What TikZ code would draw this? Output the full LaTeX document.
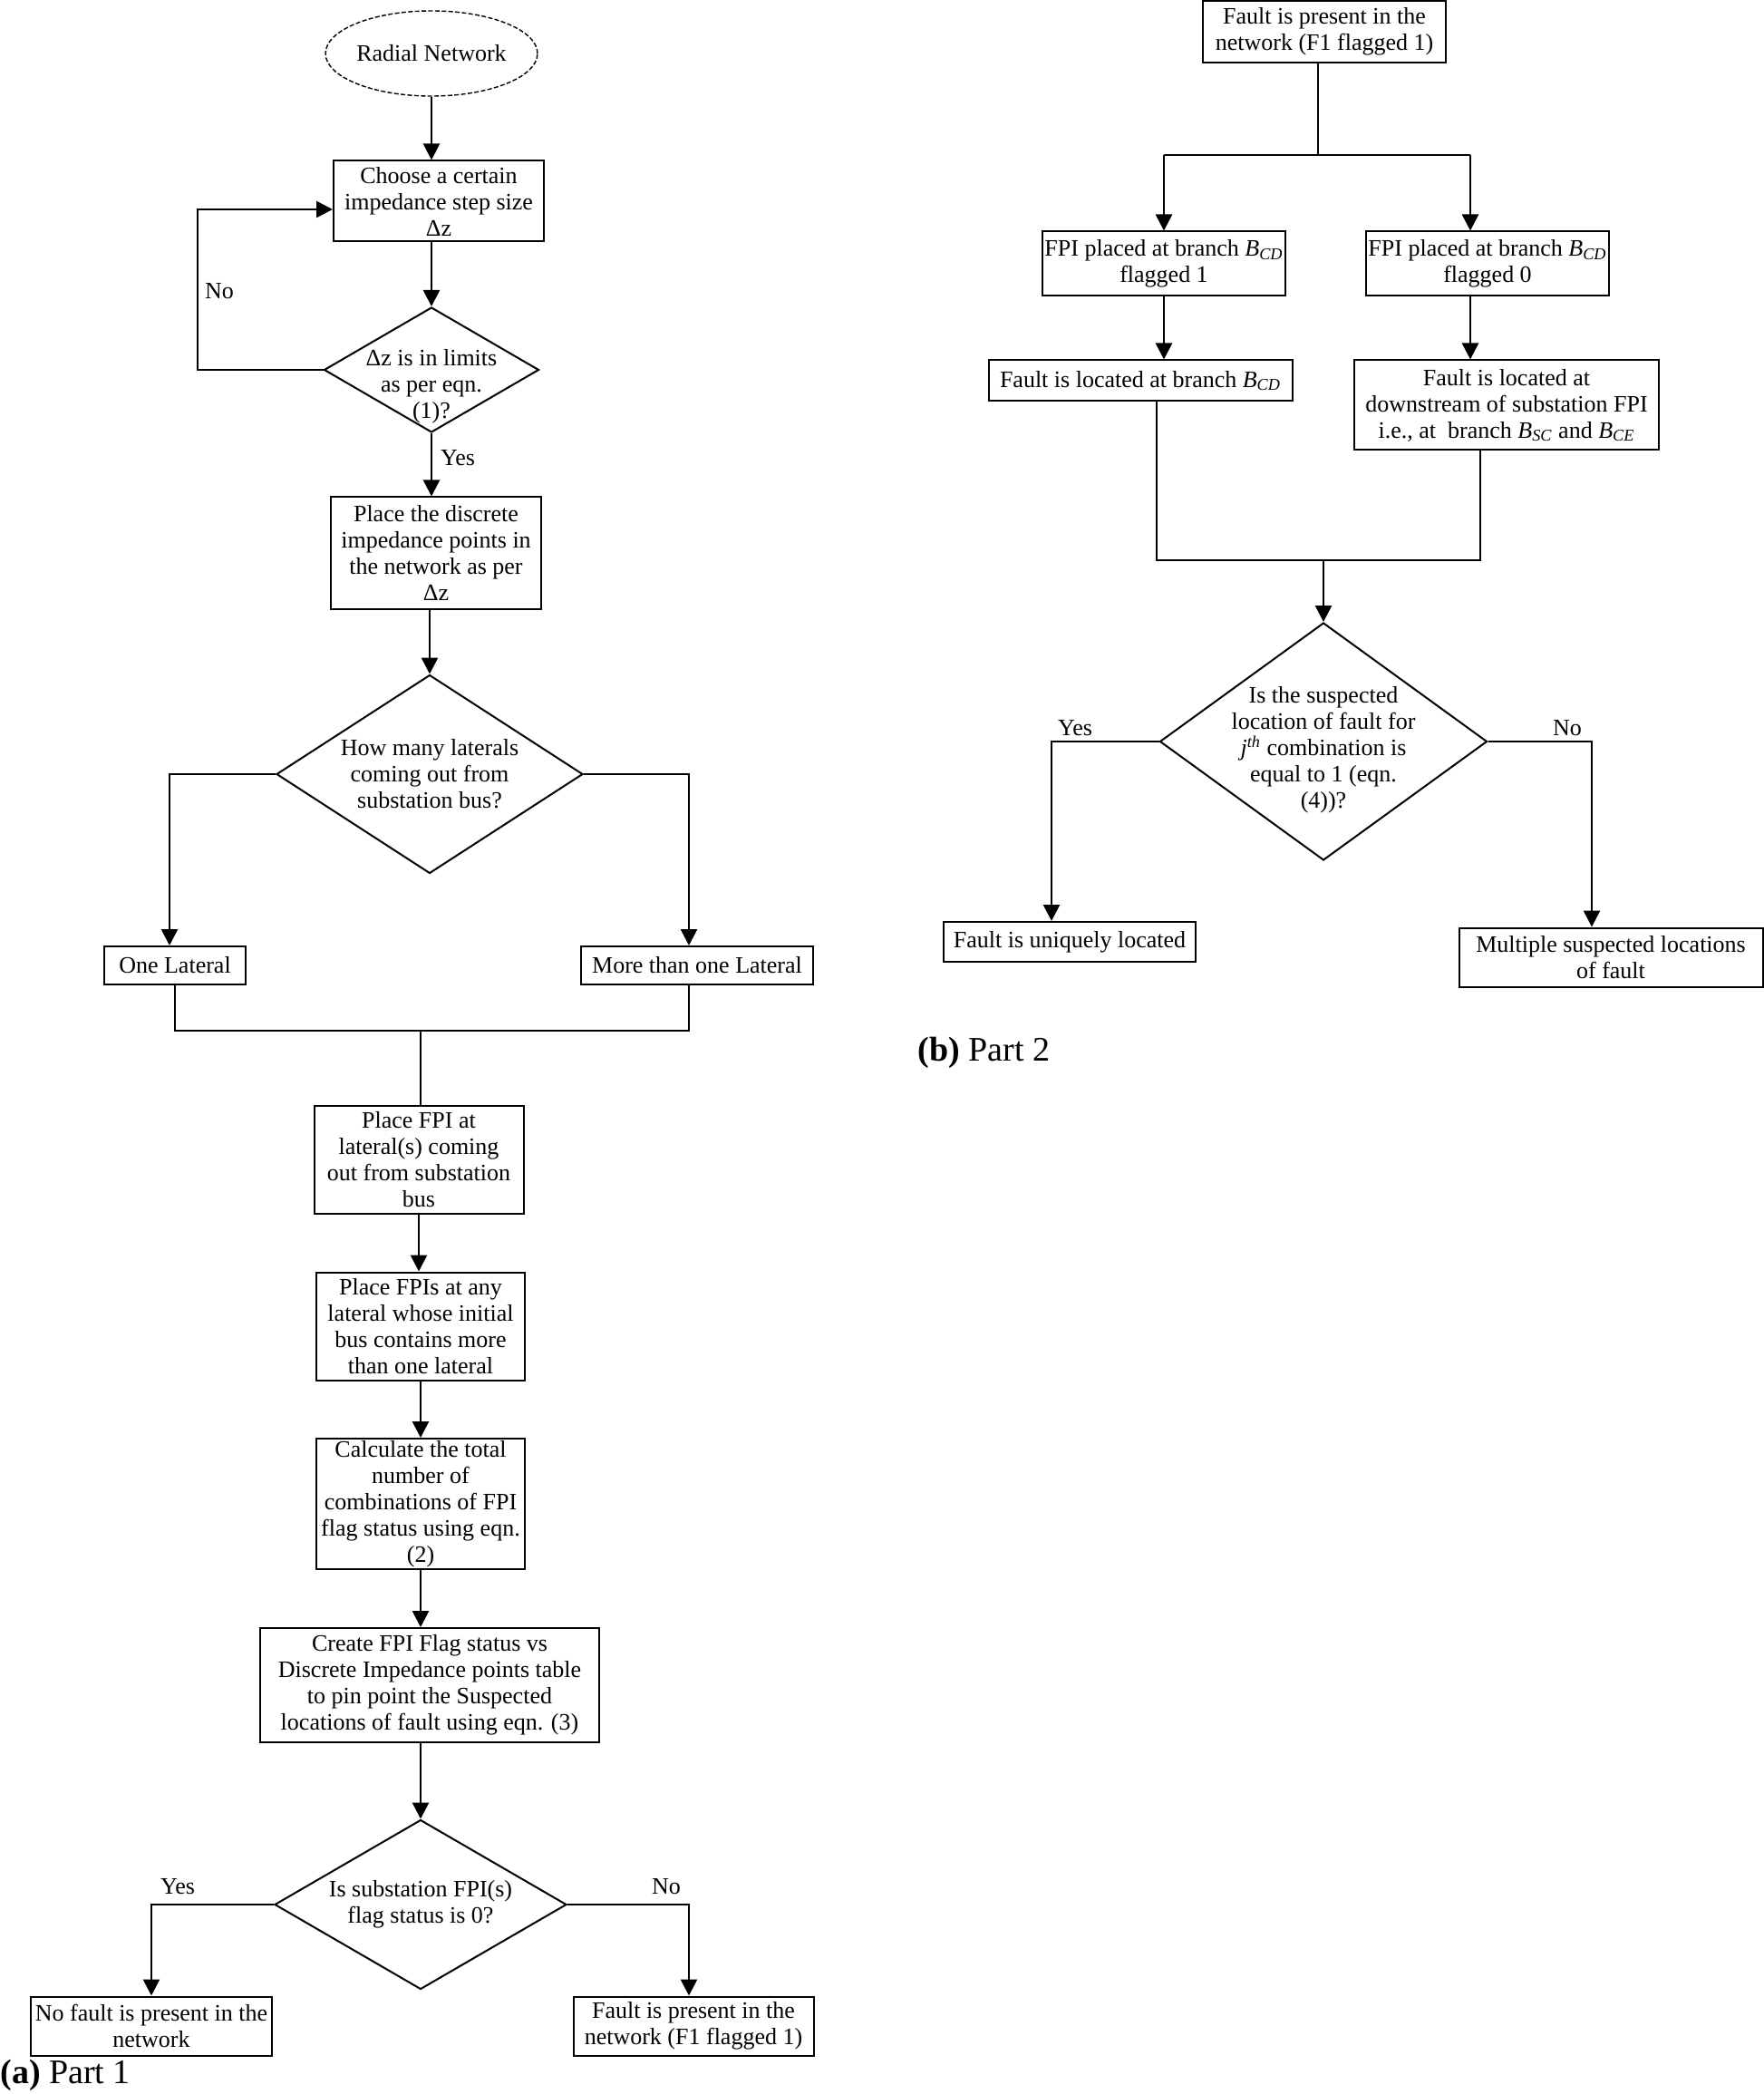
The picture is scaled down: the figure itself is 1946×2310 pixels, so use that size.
\documentclass[tikz,border=0pt]{standalone}
\usepackage{fontspec}
\setmainfont{Liberation Serif}
\usetikzlibrary{shapes.geometric,arrows.meta}
\begin{document}
\begin{tikzpicture}[x=0.5pt,y=-0.5pt,
  every node/.style={font=\fontsize{13}{14.5}\selectfont},
  box/.style={draw,line width=1pt,align=center,inner xsep=1pt,inner ysep=0pt},
  dia/.style={draw,diamond,line width=1pt,inner sep=0pt},
  dtext/.style={align=center,inner sep=0pt},
  ell/.style={draw,ellipse,dashed,dash pattern=on 2.5pt off 1.2pt,line width=0.7pt,inner sep=0pt},
  arr/.style={line width=1.35pt,-{Triangle[length=9pt,width=9pt]}},
  ln/.style={line width=1.35pt},
  lbl/.style={inner sep=0pt},
  captext/.style={inner sep=0pt,anchor=west,font=\fontsize{19}{21}\selectfont}]
\useasboundingbox[fill=white] (0,0) rectangle (1946,2310);

% ---------------- Part (a) ----------------
\node[ell,minimum width=115.5pt,minimum height=47pt] (start) at (476,59) {Radial Network};
\node[box,minimum width=116pt,minimum height=44.5pt] (b1) at (484,222) {Choose a certain\\impedance step size\\Δz};
\node[dia,minimum width=118.5pt,minimum height=69pt,
  label={[dtext,yshift=-9pt]center:{Δz is in limits\\as per eqn.\\(1)?}}] (d1) at (476,408) {};
\node[box,minimum width=116pt,minimum height=61.5pt] (b2) at (481,610) {Place the discrete\\impedance points in\\the network as per\\Δz};
\node[dia,minimum width=169pt,minimum height=109.5pt,
  label={[dtext]center:{How many laterals\\coming out from\\substation bus?}}] (d2) at (474,854) {};
\node[box,minimum width=78pt,minimum height=21pt] (one) at (193,1065) {One Lateral};
\node[box,minimum width=128pt,minimum height=21pt] (more) at (769,1065) {More than one Lateral};
\node[box,minimum width=115.5pt,minimum height=59.5pt] (b3) at (462,1279) {Place FPI at\\lateral(s) coming\\out from substation\\bus};
\node[box,minimum width=115pt,minimum height=59.5pt] (b4) at (464,1463) {Place FPIs at any\\lateral whose initial\\bus contains more\\than one lateral};
\node[box,minimum width=115pt,minimum height=72pt] (b5) at (464,1659) {Calculate the total\\number of\\combinations of FPI\\flag status using eqn.\\(2)};
\node[box,minimum width=187pt,minimum height=63pt] (b6) at (474,1859) {Create FPI Flag status vs\\Discrete Impedance points table\\to pin point the Suspected\\locations of fault using eqn. (3)};
\node[dia,minimum width=161pt,minimum height=93.5pt,
  label={[dtext]center:{Is substation FPI(s)\\flag status is 0?}}] (d3) at (464,2101) {};
\node[box,minimum width=133pt,minimum height=32.5pt] (nof) at (167,2235) {No fault is present in the\\network};
\node[box,minimum width=132.5pt,minimum height=32.5pt] (fp) at (765,2235) {Fault is present in the\\network (F1 flagged 1)};
\node[captext] (capa) at (0,2289) {\textbf{(a)} Part 1};

\coordinate (loop) at (218,231);
\coordinate (lx) at (187,0);
\coordinate (rx) at (760,0);
\coordinate (merge) at (464,1137);

\draw[arr] (start.south) -- (start.south |- b1.north);
\draw[arr] (d1.north |- b1.south) -- (d1.north);
\draw[arr] (d1.west) -| (loop) -- (loop -| b1.west);
\node[lbl] (no1) at (242,321) {No};
\draw[arr] (d1.south) -- (d1.south |- b2.north);
\node[lbl] (yes1) at (505,505) {Yes};
\draw[arr] (d2.north |- b2.south) -- (d2.north);
\draw[arr] (d2.west) -| (lx |- one.north);
\draw[arr] (d2.east) -| (rx |- more.north);
\draw[ln] (one.south) |- (merge) -| (rx |- more.south);
\draw[ln] (merge) -- (merge |- b3.north);
\draw[arr] (b3.south) -- (b3.south |- b4.north);
\draw[arr] (b4.south) -- (b4.south |- b5.north);
\draw[arr] (b5.south) -- (b5.south |- b6.north);
\draw[arr] (d3.north |- b6.south) -- (d3.north);
\draw[arr] (d3.west) -| (nof.north);
\draw[arr] (d3.east) -| (rx |- fp.north);
\node[lbl] (yes2) at (196,2081) {Yes};
\node[lbl] (no2) at (735,2081) {No};

% ---------------- Part (b) ----------------
\node[box,minimum width=134pt,minimum height=34pt] (top) at (1461,35) {Fault is present in the\\network (F1 flagged 1)};
\node[box,minimum width=134pt,minimum height=35.5pt] (fpi1) at (1284,291) {FPI placed at branch \textit{B}\textsubscript{\textit{CD}}\\flagged 1};
\node[box,minimum width=134pt,minimum height=35.5pt] (fpi2) at (1641,291) {FPI placed at branch \textit{B}\textsubscript{\textit{CD}}\\flagged 0};
\node[box,minimum width=167.5pt,minimum height=22.5pt] (loc1) at (1258,420) {Fault is located at branch \textit{B}\textsubscript{\textit{CD}}};
\node[box,minimum width=168pt,minimum height=49.5pt] (loc2) at (1662,447) {Fault is located at\\downstream of substation FPI\\i.e., at\ \ branch \textit{B}\textsubscript{\textit{SC}} and \textit{B}\textsubscript{\textit{CE}}};
\node[dia,minimum width=180.5pt,minimum height=131pt,
  label={[dtext,yshift=-4.5pt]center:{Is the suspected\\location of fault for\\\textit{j}\textsuperscript{\textit{th}} combination is\\equal to 1 (eqn.\\(4))?}}] (dq) at (1460,818) {};
\node[box,minimum width=139pt,minimum height=22pt] (uniq) at (1180,1039) {Fault is uniquely located};
\node[box,minimum width=167.5pt,minimum height=32.5pt] (mult) at (1777,1056) {Multiple suspected locations\\of fault};
\node[captext] (capb) at (1012,1161) {\textbf{(b)} Part 2};

\coordinate (split) at (1454,171);
\coordinate (bL) at (1284,171);
\coordinate (bR) at (1622,171);
\coordinate (mL) at (1276,618);
\coordinate (mR) at (1633,618);
\coordinate (m2) at (1460,618);
\coordinate (yx) at (1160,0);
\coordinate (nx) at (1756,0);

\draw[ln] (split |- top.south) -- (split);
\draw[ln] (bL) -- (bR);
\draw[arr] (bL) -- (bL |- fpi1.north);
\draw[arr] (bR) -- (bR |- fpi2.north);
\draw[arr] (fpi1.south) -- (fpi1.south |- loc1.north);
\draw[arr] (bR |- fpi2.south) -- (bR |- loc2.north);
\draw[ln] (mL |- loc1.south) -- (mL) -- (mR) -- (mR |- loc2.south);
\draw[arr] (m2) -- (dq.north);
\draw[arr] (dq.west) -| (yx |- uniq.north);
\draw[arr] (dq.east) -| (nx |- mult.north);
\node[lbl] (yes3) at (1186,803) {Yes};
\node[lbl] (no3) at (1729,803) {No};
\end{tikzpicture}
\end{document}
